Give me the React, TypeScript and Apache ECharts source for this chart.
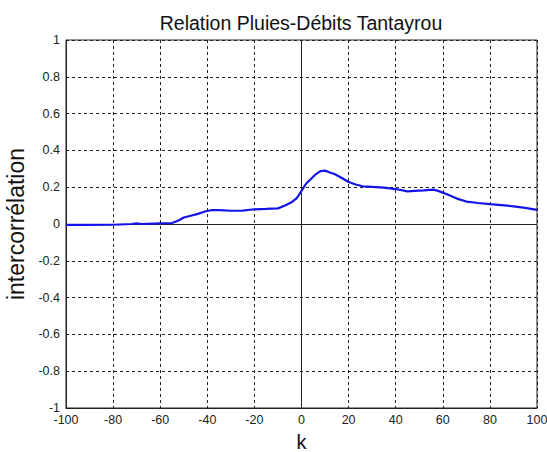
import React, { useEffect, useRef } from "react";
import * as echarts from "echarts";

const titleText = "Relation Pluies-Débits Tantayrou";
const xName = "k";
const yName = "intercorrélation";

const kValues = [-100, -90, -80, -72, -70, -68, -60, -55, -52, -50, -47, -44, -41, -38, -35, -30, -25, -20, -15, -10, -7, -4, -2, 0, 2, 4, 6, 8, 10, 12, 14, 16, 18, 20, 23, 26, 30, 35, 40, 45, 48, 52, 56, 58, 62, 66, 70, 75, 80, 85, 90, 95, 100];
const corrValues = [-0.005, -0.005, -0.004, 0.0, 0.004, 0.0, 0.003, 0.005, 0.02, 0.035, 0.045, 0.055, 0.068, 0.076, 0.075, 0.072, 0.073, 0.08, 0.082, 0.085, 0.1, 0.12, 0.14, 0.18, 0.22, 0.245, 0.27, 0.287, 0.29, 0.28, 0.272, 0.258, 0.243, 0.228, 0.215, 0.205, 0.202, 0.198, 0.19, 0.177, 0.18, 0.183, 0.187, 0.18, 0.16, 0.138, 0.122, 0.114, 0.108, 0.103, 0.096, 0.088, 0.077];

const FONT = "'Liberation Sans', Arial, sans-serif";

export default function App() {
  const ref = useRef<HTMLDivElement>(null);
  useEffect(() => {
    document.body.style.margin = "0";
    const chart = echarts.init(ref.current!, null, { renderer: "svg" });
    chart.setOption({
      animation: false,
      backgroundColor: "#ffffff",
      title: {
        text: titleText,
        left: 296,
        textAlign: "center",
        top: 8,
        textStyle: { fontFamily: FONT, fontSize: 19.5, fontWeight: "normal", color: "#111" },
      },
      grid: {
        left: 66,
        right: 10,
        top: 40,
        bottom: 44,
        outerBoundsMode: "none",
        containLabel: false,
        show: true,
        borderColor: "#222",
        borderWidth: 1,
        backgroundColor: "transparent",
      },
      xAxis: {
        type: "value",
        min: -100,
        max: 100,
        interval: 20,
        name: xName,
        nameLocation: "middle",
        nameGap: 24,
        nameTextStyle: { fontFamily: FONT, fontSize: 20, color: "#111" },
        axisLine: { show: true, onZero: false, lineStyle: { color: "#222" } },
        axisTick: { show: false },
        axisLabel: { fontFamily: FONT, fontSize: 12.5, color: "#222", margin: 5 },
        splitLine: { show: true, lineStyle: { color: "#222", type: [3, 3], width: 1 } },
      },
      yAxis: {
        type: "value",
        min: -1,
        max: 1,
        interval: 0.2,
        name: yName,
        nameLocation: "middle",
        nameGap: 34,
        nameTextStyle: { fontFamily: FONT, fontSize: 23, color: "#111" },
        axisLine: { show: true, onZero: false, lineStyle: { color: "#222" } },
        axisTick: { show: false },
        axisLabel: {
          fontFamily: FONT,
          fontSize: 12.5,
          color: "#222",
          margin: 6,
          formatter: (v: number) => {
            const r = Math.round(v * 10) / 10;
            return r === 0 ? "0" : String(r);
          },
        },
        splitLine: { show: true, lineStyle: { color: "#222", type: [3, 3], width: 1 } },
      },
      series: [
        {
          type: "line",
          data: kValues.map((k, i) => [k, corrValues[i]]),
          showSymbol: false,
          lineStyle: { color: "#1414e8", width: 2.2 },
          itemStyle: { color: "#1414e8" },
          z: 5,
          markLine: {
            silent: true,
            symbol: "none",
            label: { show: false },
            lineStyle: { color: "#222", type: "solid", width: 1 },
            data: [{ xAxis: 0 }, { yAxis: 0 }],
            z: 3,
          },
        },
      ],
    });
    return () => chart.dispose();
  }, []);
  return <div ref={ref} style={{ width: 547, height: 452 }} />;
}
